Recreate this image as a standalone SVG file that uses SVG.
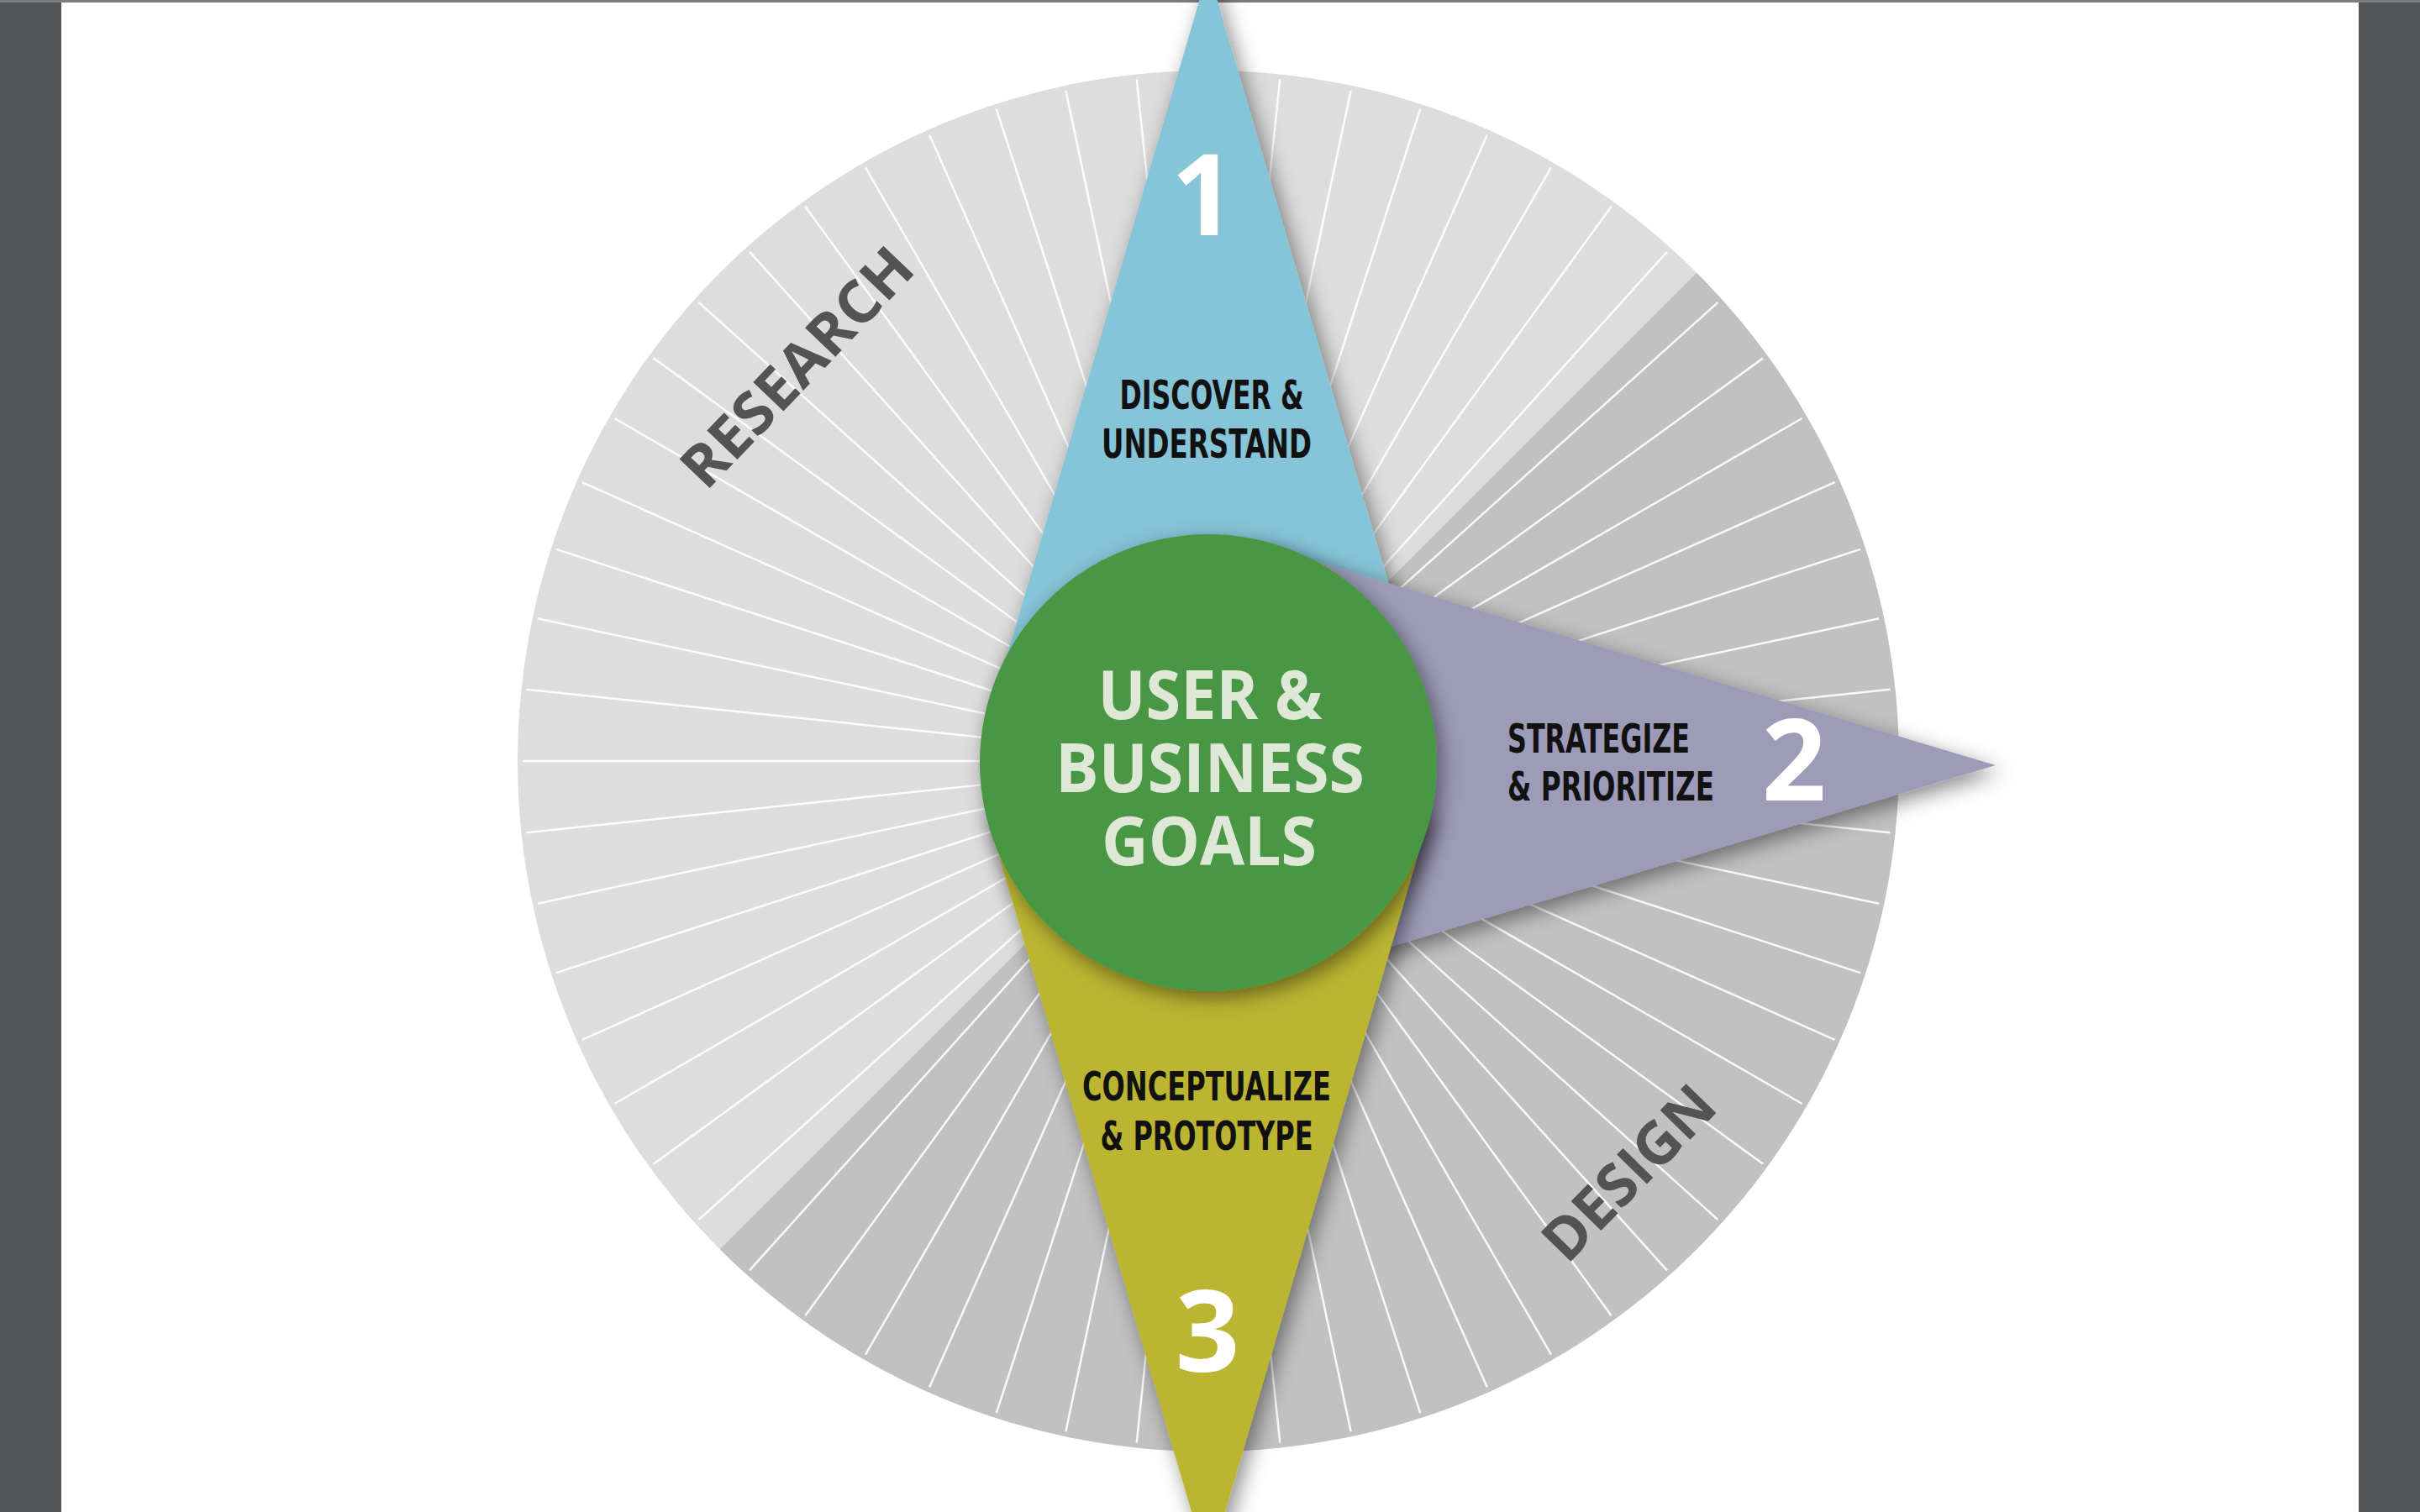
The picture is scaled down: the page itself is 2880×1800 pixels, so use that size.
<svg xmlns="http://www.w3.org/2000/svg" width="2880" height="1800" viewBox="0 0 2880 1800">
<defs>
<style>
.lbl{font-family:"DejaVu Sans Condensed","Liberation Sans",sans-serif;font-weight:bold;font-size:48px;fill:#111111;}
.mid{text-anchor:middle;}
.num{font-family:"Open Sans","Liberation Sans",sans-serif;font-weight:bold;font-size:134px;fill:#ffffff;text-anchor:middle;}
.ctr{font-family:"Open Sans","Liberation Sans",sans-serif;font-weight:bold;font-size:81px;fill:#dfe8d6;text-anchor:middle;}
.phase{font-family:"Open Sans","Liberation Sans",sans-serif;font-weight:bold;font-size:70px;fill:#535355;text-anchor:middle;}
.ray{stroke:#ffffff;stroke-width:2.5;stroke-opacity:0.9;}
.shadow{filter:url(#sh);}
</style>
<filter id="sh" x="-20%" y="-20%" width="140%" height="140%">
<feDropShadow dx="6" dy="8" stdDeviation="12" flood-color="#000000" flood-opacity="0.45"/>
</filter>
<line id="ray" class="ray" x1="1438" y1="906" x2="2254" y2="906"/>
</defs>

<g id="background">
<rect x="0" y="0" width="2880" height="1800" fill="#ffffff"/>
<rect x="0" y="0" width="73" height="1800" fill="#53575a"/>
<rect x="2807" y="0" width="73" height="1800" fill="#53575a"/>
<rect x="0" y="0" width="2880" height="3" fill="#7a7d80"/>
</g>

<g id="disc">
<circle cx="1438" cy="906" r="822" fill="#dddddd"/>
<path d="M1438 906 L2019.2 324.8 A822 822 0 0 1 2019.2 1487.2 A822 822 0 0 1 856.8 1487.2 Z" fill="#c1c1c1"/>
<g id="rays">
<use href="#ray" transform="rotate(0 1438 906)"/>
<use href="#ray" transform="rotate(6 1438 906)"/>
<use href="#ray" transform="rotate(12 1438 906)"/>
<use href="#ray" transform="rotate(18 1438 906)"/>
<use href="#ray" transform="rotate(24 1438 906)"/>
<use href="#ray" transform="rotate(30 1438 906)"/>
<use href="#ray" transform="rotate(36 1438 906)"/>
<use href="#ray" transform="rotate(42 1438 906)"/>
<use href="#ray" transform="rotate(48 1438 906)"/>
<use href="#ray" transform="rotate(54 1438 906)"/>
<use href="#ray" transform="rotate(60 1438 906)"/>
<use href="#ray" transform="rotate(66 1438 906)"/>
<use href="#ray" transform="rotate(72 1438 906)"/>
<use href="#ray" transform="rotate(78 1438 906)"/>
<use href="#ray" transform="rotate(84 1438 906)"/>
<use href="#ray" transform="rotate(90 1438 906)"/>
<use href="#ray" transform="rotate(96 1438 906)"/>
<use href="#ray" transform="rotate(102 1438 906)"/>
<use href="#ray" transform="rotate(108 1438 906)"/>
<use href="#ray" transform="rotate(114 1438 906)"/>
<use href="#ray" transform="rotate(120 1438 906)"/>
<use href="#ray" transform="rotate(126 1438 906)"/>
<use href="#ray" transform="rotate(132 1438 906)"/>
<use href="#ray" transform="rotate(138 1438 906)"/>
<use href="#ray" transform="rotate(144 1438 906)"/>
<use href="#ray" transform="rotate(150 1438 906)"/>
<use href="#ray" transform="rotate(156 1438 906)"/>
<use href="#ray" transform="rotate(162 1438 906)"/>
<use href="#ray" transform="rotate(168 1438 906)"/>
<use href="#ray" transform="rotate(174 1438 906)"/>
<use href="#ray" transform="rotate(180 1438 906)"/>
<use href="#ray" transform="rotate(186 1438 906)"/>
<use href="#ray" transform="rotate(192 1438 906)"/>
<use href="#ray" transform="rotate(198 1438 906)"/>
<use href="#ray" transform="rotate(204 1438 906)"/>
<use href="#ray" transform="rotate(210 1438 906)"/>
<use href="#ray" transform="rotate(216 1438 906)"/>
<use href="#ray" transform="rotate(222 1438 906)"/>
<use href="#ray" transform="rotate(228 1438 906)"/>
<use href="#ray" transform="rotate(234 1438 906)"/>
<use href="#ray" transform="rotate(240 1438 906)"/>
<use href="#ray" transform="rotate(246 1438 906)"/>
<use href="#ray" transform="rotate(252 1438 906)"/>
<use href="#ray" transform="rotate(258 1438 906)"/>
<use href="#ray" transform="rotate(264 1438 906)"/>
<use href="#ray" transform="rotate(270 1438 906)"/>
<use href="#ray" transform="rotate(276 1438 906)"/>
<use href="#ray" transform="rotate(282 1438 906)"/>
<use href="#ray" transform="rotate(288 1438 906)"/>
<use href="#ray" transform="rotate(294 1438 906)"/>
<use href="#ray" transform="rotate(300 1438 906)"/>
<use href="#ray" transform="rotate(306 1438 906)"/>
<use href="#ray" transform="rotate(312 1438 906)"/>
<use href="#ray" transform="rotate(318 1438 906)"/>
<use href="#ray" transform="rotate(324 1438 906)"/>
<use href="#ray" transform="rotate(330 1438 906)"/>
<use href="#ray" transform="rotate(336 1438 906)"/>
<use href="#ray" transform="rotate(342 1438 906)"/>
<use href="#ray" transform="rotate(348 1438 906)"/>
<use href="#ray" transform="rotate(354 1438 906)"/>
</g>
<text id="research" class="phase" transform="translate(948 437) rotate(-46.3)" x="0" y="25" textLength="364" lengthAdjust="spacingAndGlyphs">RESEARCH</text>
<text id="design" class="phase" fill="#4a4b4d" transform="translate(1938 1396) rotate(-45.6)" x="0" y="25" textLength="260" lengthAdjust="spacingAndGlyphs">DESIGN</text>
</g>

<g id="connectors"></g>

<g id="step1">
<polygon class="shadow" points="1438,-36 1698,850 1178,850" fill="#86c4d7"/>
<text class="num" x="1432" y="280">1</text>
<text class="lbl mid" x="1442" y="487" textLength="219" lengthAdjust="spacingAndGlyphs">DISCOVER &amp;</text>
<text class="lbl mid" x="1436" y="545" textLength="250" lengthAdjust="spacingAndGlyphs">UNDERSTAND</text>
</g>

<g id="step2">
<polygon class="shadow" points="2375,911 1490,1176.5 1490,645.5" fill="#9e9bb9"/>
<text class="lbl" x="1794" y="896" textLength="217" lengthAdjust="spacingAndGlyphs">STRATEGIZE</text>
<text class="lbl" x="1794" y="953" textLength="246" lengthAdjust="spacingAndGlyphs">&amp; PRIORITIZE</text>
<text class="num" x="2135" y="953">2</text>
</g>

<g id="step3">
<polygon class="shadow" points="1438,1868 1173,965 1703,965" fill="#bcb532"/>
<text class="lbl mid" x="1436" y="1310" textLength="296" lengthAdjust="spacingAndGlyphs">CONCEPTUALIZE</text>
<text class="lbl mid" x="1436" y="1369" textLength="253" lengthAdjust="spacingAndGlyphs">&amp; PROTOTYPE</text>
<text class="num" x="1437" y="1633">3</text>
</g>

<g id="goals">
<circle class="shadow" cx="1438" cy="908" r="272" fill="#4a9644"/>
<text class="ctr"><tspan x="1440" y="856" textLength="267" lengthAdjust="spacingAndGlyphs">USER &amp;</tspan><tspan x="1440" y="943" textLength="368" lengthAdjust="spacingAndGlyphs">BUSINESS</tspan><tspan x="1439" y="1030" textLength="256" lengthAdjust="spacingAndGlyphs">GOALS</tspan></text>
</g>
</svg>
